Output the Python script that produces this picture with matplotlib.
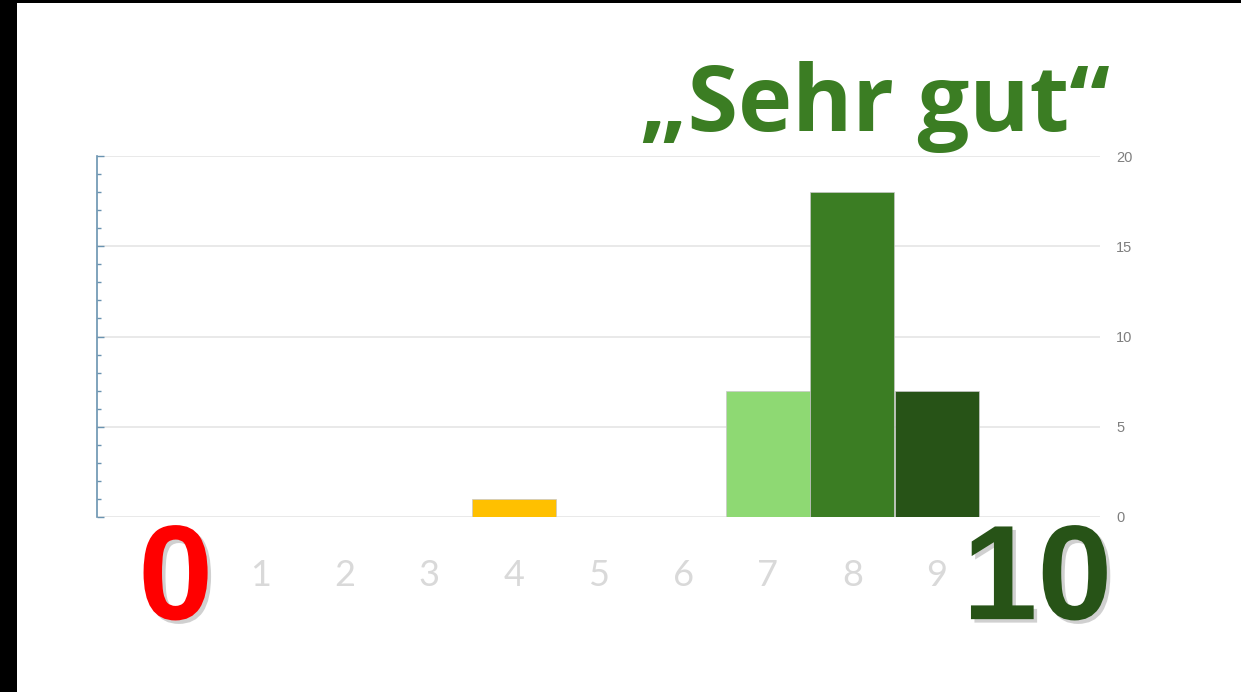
import numpy as np
import matplotlib.pyplot as plt
import matplotlib.patheffects as pe
from matplotlib.patches import Rectangle

# Bewertung 0..10, Anzahl Stimmen
scores = np.arange(0, 11)
counts = [0, 0, 0, 0, 1, 0, 0, 7, 18, 7, 0]
bar_colors = ['#ffc000'] * 7 + ['#8ed973', '#3b7d23', '#275317', '#275317']
y_ticks = [0, 5, 10, 15, 20]
mid_labels = ['1', '2', '3', '4', '5', '6', '7', '8', '9']
title = '\u201eSehr gut\u201c'

fig = plt.figure(figsize=(12.41, 6.92), dpi=100)
fig.patch.set_facecolor('white')

# black frame on left/top edge
fig.patches.append(Rectangle((0, 0), 17 / 1241, 1, transform=fig.transFigure,
                             facecolor='black', edgecolor='none', zorder=0))
fig.patches.append(Rectangle((0, 1 - 3 / 692), 1, 3 / 692, transform=fig.transFigure,
                             facecolor='black', edgecolor='none', zorder=0))

ax = fig.add_axes([97 / 1241, 1 - 517 / 692, (1100 - 97) / 1241, (517 - 156) / 692])
ax.bar(scores, counts, width=0.99, color=bar_colors, edgecolor='#c8c8c8',
       linewidth=0.5, zorder=3)

ax.set_xlim(-0.93, 10.93)
ax.set_ylim(0, 20)
ax.set_yticks(y_ticks)
ax.set_yticks(np.arange(0, 21, 1), minor=True)
ax.yaxis.grid(True, color='#e3e3e3', linewidth=1.1, zorder=0)
ax.set_axisbelow(True)

for s in ['top', 'right', 'bottom']:
    ax.spines[s].set_visible(False)
ax.spines['left'].set_color('#6a93b0')
ax.spines['left'].set_linewidth(1.2)

ax.tick_params(axis='y', which='both', left=True, right=False, direction='in',
               labelleft=False, labelright=True, color='#6a93b0', width=1.0)
ax.tick_params(axis='y', which='major', length=5, pad=11.5,
               labelsize=10.5, labelcolor='#7f7f7f')
ax.tick_params(axis='y', which='minor', length=3)
for lbl in ax.get_yticklabels():
    lbl.set_family('Liberation Sans')

ax.set_xticks(scores[1:10])
ax.set_xticklabels(mid_labels, family='Lato', fontsize=26, color='#d9d9d9')
ax.tick_params(axis='x', length=0, pad=30)

shadow = [pe.withSimplePatchShadow(offset=(2.5, -2.5), shadow_rgbFace='#666666', alpha=0.3)]
ax.text(0, -3.72, '0', transform=ax.transData, ha='center', va='center',
        family='Liberation Sans', fontweight='bold', fontsize=97, color='#ff0000',
        path_effects=shadow, clip_on=False)
ax.text(10.19, -3.72, '10', transform=ax.transData, ha='center', va='center',
        family='Liberation Sans', fontweight='bold', fontsize=97, color='#275317',
        path_effects=shadow, clip_on=False)

fig.text(1110 / 1241, 1 - 131 / 692, title, ha='right', va='baseline',
         family='Open Sans', fontweight='bold', fontsize=66, color='#3b7d23')

fig.savefig('out.png', dpi=100, facecolor='white')
